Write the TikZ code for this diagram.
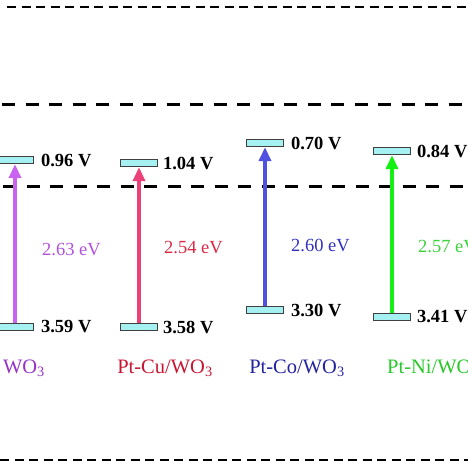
\documentclass[tikz,border=0pt]{standalone}
\usepackage{fontspec}
\setmainfont{Liberation Serif}
\usetikzlibrary{arrows.meta,positioning}
\definecolor{barcyan}{RGB}{165,240,240}
\definecolor{violA}{RGB}{200,100,240}
\definecolor{violT}{RGB}{180,80,220}
\definecolor{violL}{RGB}{150,50,200}
\definecolor{pinkA}{RGB}{235,65,120}
\definecolor{pinkT}{RGB}{220,40,70}
\definecolor{pinkL}{RGB}{200,20,50}
\definecolor{blueA}{RGB}{80,80,225}
\definecolor{blueT}{RGB}{50,50,190}
\definecolor{blueL}{RGB}{35,35,160}
\definecolor{greenA}{RGB}{20,240,20}
\definecolor{greenT}{RGB}{60,210,60}
\definecolor{greenL}{RGB}{40,200,40}

\begin{document}
\begin{tikzpicture}[x=1pt,y=1pt,
    bandbar/.style={draw=black!75,fill=barcyan,line width=0.8pt,minimum width=37pt,minimum height=7.5pt,inner sep=0pt},
    potlab/.style={font=\fontsize{18.5}{20}\selectfont\bfseries,inner sep=1pt,anchor=west},
    gaplab/.style={font=\fontsize{18.5}{20}\selectfont,inner sep=0pt,anchor=west},
    samplelab/.style={font=\fontsize{20.5}{22}\selectfont,inner sep=0pt},
    excite/.style={line width=4pt,-{Triangle[length=14pt,width=12pt]}},
    fine/.style={line width=2.5pt,dash pattern=on 9pt off 5.5pt},
    coarse/.style={line width=3pt,dash pattern=on 13pt off 10.5pt}]
    \useasboundingbox (0,0) rectangle (468,468);
    \clip (0,0) rectangle (468,468);
    % reference levels
    \draw[fine] (7,461) -- (468,461);
    \draw[coarse] (2,363) -- (468,363);
    \draw[coarse] (3,281) -- (468,281);
    \draw[fine] (0,8) -- (468,8);
    % WO3
    \node[bandbar] (cb1) at (15,308) {};
    \node[bandbar] (vb1) at (15,141) {};
    \draw[excite,violA] (vb1.north) -- (cb1.south);
    \node[potlab,right=6pt of cb1] (cbv1) {0.96 V};
    \node[potlab,right=6pt of vb1] (vbv1) {3.59 V};
    \node[gaplab,violT] (eg1) at (42,218) {2.63 eV};
    \node[samplelab,violL] (lab1) at (24,100) {WO\textsubscript{3}};
    % Pt-Cu/WO3
    \node[bandbar] (cb2) at (139,305) {};
    \node[bandbar] (vb2) at (139,141) {};
    \draw[excite,pinkA] (vb2.north) -- (cb2.south);
    \node[potlab,right=4pt of cb2] (cbv2) {1.04 V};
    \node[potlab,right=4pt of vb2] (vbv2) {3.58 V};
    \node[gaplab,pinkT] (eg2) at (164,220) {2.54 eV};
    \node[samplelab,pinkL] (lab2) at (165,100) {Pt-Cu/WO\textsubscript{3}};
    % Pt-Co/WO3
    \node[bandbar] (cb3) at (265,325) {};
    \node[bandbar] (vb3) at (265,158) {};
    \draw[excite,blueA] (vb3.north) -- (cb3.south);
    \node[potlab,right=6pt of cb3] (cbv3) {0.70 V};
    \node[potlab,right=6pt of vb3] (vbv3) {3.30 V};
    \node[gaplab,blueT] (eg3) at (291,223) {2.60 eV};
    \node[samplelab,blueL] (lab3) at (297,100) {Pt-Co/WO\textsubscript{3}};
    % Pt-Ni/WO3
    \node[bandbar] (cb4) at (392,317) {};
    \node[bandbar] (vb4) at (392,151) {};
    \draw[excite,greenA] (vb4.north) -- (cb4.south);
    \node[potlab,right=5pt of cb4] (cbv4) {0.84 V};
    \node[potlab,right=5pt of vb4] (vbv4) {3.41 V};
    \node[gaplab,greenT] (eg4) at (418,221) {2.57 eV};
    \node[samplelab,greenL,anchor=west] (lab4) at (387,100) {Pt-Ni/WO\textsubscript{3}};
\end{tikzpicture}
\end{document}
